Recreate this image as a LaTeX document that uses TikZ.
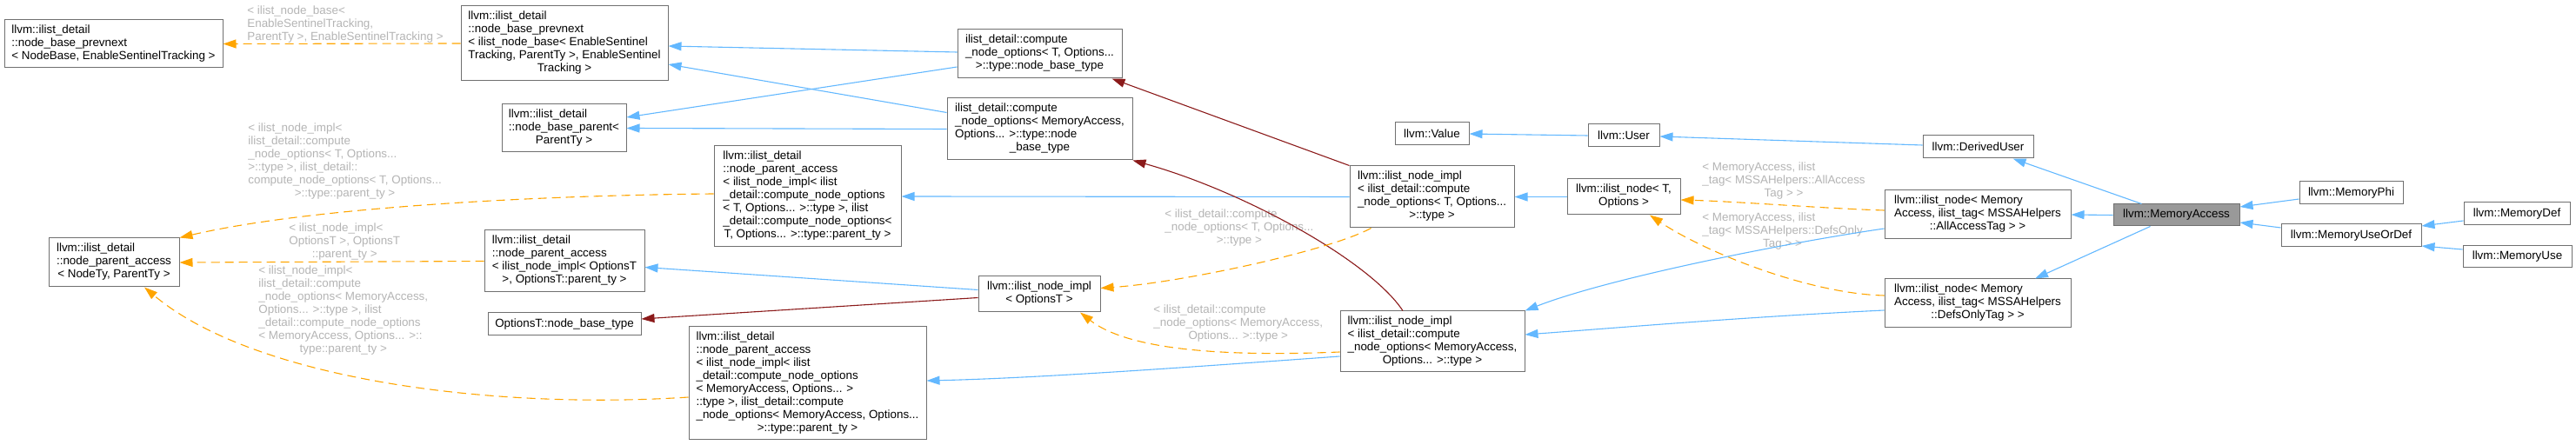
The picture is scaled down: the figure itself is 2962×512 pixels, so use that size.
\documentclass[tikz,border=0pt]{standalone}
\usepackage{fontspec}
\setmainfont{Liberation Sans}
\usetikzlibrary{arrows.meta,calc}
\definecolor{boxborder}{HTML}{707070}
\definecolor{inhblue}{HTML}{63B8FF}
\definecolor{tmplorange}{HTML}{FFA500}
\definecolor{usered}{HTML}{8B1A1A}
\definecolor{lblgray}{HTML}{B4B4B4}
\definecolor{mafill}{HTML}{999999}
\newcommand{\mlines}[2]{\begin{tabular}{@{}l@{}}#1\\\multicolumn{1}{@{}c@{}}{#2}\end{tabular}}
\newcommand{\bx}[7][]{\node[box,#1,minimum width={(#5-#3)*0.5pt},minimum height={(#6-#4)*0.5pt}] (#2) at ({(#3+#5)/2},{(#4+#6)/2}) {#7};}
\tikzset{
  box/.style={draw=boxborder, line width=0.5pt, fill=white, inner sep=0pt, font=\fontsize{6.7pt}{7.5pt}\selectfont},
  lbl/.style={text=lblgray, inner sep=0pt, font=\fontsize{6.7pt}{7.5pt}\selectfont},
  tip/.style={-{Triangle[length=7.5pt,width=5pt]}},
  inh/.style={draw=inhblue, line width=0.55pt, tip},
  tmpl/.style={draw=tmplorange, line width=0.55pt, dash pattern=on 5pt off 3pt, tip},
  usee/.style={draw=usered, line width=0.55pt, tip}
}
\begin{document}
\begin{tikzpicture}[x=0.5pt,y=-0.5pt]
\useasboundingbox (0,0) rectangle (2962,512);
% nodes
\bx{NBP}{5}{23}{256}{78}{\mlines{llvm::ilist\_detail\\::node\_base\_prevnext}{< NodeBase, EnableSentinelTracking >}}
\bx{NBPtwo}{530}{7}{768}{93}{\mlines{llvm::ilist\_detail\\::node\_base\_prevnext\\< ilist\_node\_base< EnableSentinel\\Tracking, ParentTy >, EnableSentinel}{Tracking >}}
\bx{NBPar}{577}{120}{720}{175}{\mlines{llvm::ilist\_detail\\::node\_base\_parent<}{ParentTy >}}
\bx{NPAT}{821}{168}{1036}{284}{\mlines{llvm::ilist\_detail\\::node\_parent\_access\\< ilist\_node\_impl< ilist\\\_detail::compute\_node\_options\\< T, Options... >::type >, ilist\\\_detail::compute\_node\_options<}{T, Options... >::type::parent\_ty >}}
\bx{NPA}{56}{274}{206}{330}{\mlines{llvm::ilist\_detail\\::node\_parent\_access}{< NodeTy, ParentTy >}}
\bx{NPAO}{557}{265}{741}{336}{\mlines{llvm::ilist\_detail\\::node\_parent\_access\\< ilist\_node\_impl< OptionsT}{>, OptionsT::parent\_ty >}}
\bx{OBT}{561}{360}{737}{386}{OptionsT::node\_base\_type}
\bx{NPAM}{792}{376}{1065}{506}{\mlines{llvm::ilist\_detail\\::node\_parent\_access\\< ilist\_node\_impl< ilist\\\_detail::compute\_node\_options\\< MemoryAccess, Options... >\\::type >, ilist\_detail::compute\\\_node\_options< MemoryAccess, Options...}{>::type::parent\_ty >}}
\bx{CNOT}{1101}{34}{1290}{90}{\mlines{ilist\_detail::compute\\\_node\_options< T, Options...}{>::type::node\_base\_type}}
\bx{CNOM}{1089}{113}{1302}{184}{\mlines{ilist\_detail::compute\\\_node\_options< MemoryAccess,\\Options... >::type::node}{\_base\_type}}
\bx{INIO}{1125}{318}{1265}{359}{\mlines{llvm::ilist\_node\_impl}{< OptionsT >}}
\bx{INIT}{1552}{191}{1741}{262}{\mlines{llvm::ilist\_node\_impl\\< ilist\_detail::compute\\\_node\_options< T, Options...}{>::type >}}
\bx{INIM}{1541}{358}{1753}{428}{\mlines{llvm::ilist\_node\_impl\\< ilist\_detail::compute\\\_node\_options< MemoryAccess,}{Options... >::type >}}
\bx{Val}{1604}{141}{1689}{167}{llvm::Value}
\bx{Usr}{1826}{143}{1908}{169}{llvm::User}
\bx{INT}{1802}{206}{1932}{247}{\mlines{llvm::ilist\_node< T,}{Options >}}
\bx{DU}{2211}{156}{2338}{182}{llvm::DerivedUser}
\bx{INA}{2167}{219}{2381}{275}{\mlines{llvm::ilist\_node< Memory\\Access, ilist\_tag< MSSAHelpers}{::AllAccessTag > >}}
\bx{IND}{2167}{321}{2381}{377}{\mlines{llvm::ilist\_node< Memory\\Access, ilist\_tag< MSSAHelpers}{::DefsOnlyTag > >}}
\bx[fill=mafill]{MA}{2430}{235}{2575}{260}{llvm::MemoryAccess}
\bx{MPhi}{2644}{209}{2763}{235}{llvm::MemoryPhi}
\bx{MUoD}{2623}{258}{2784}{284}{llvm::MemoryUseOrDef}
\bx{MDef}{2833}{233}{2955}{259}{llvm::MemoryDef}
\bx{MUse}{2832}{283}{2957}{308}{llvm::MemoryUse}
% edge labels
\node[lbl,anchor=west] (l1) at (284,29) {\mlines{< ilist\_node\_base<\\EnableSentinelTracking,}{ParentTy >, EnableSentinelTracking >}};
\node[lbl,anchor=west] (l2) at (285,186) {\mlines{< ilist\_node\_impl<\\ilist\_detail::compute\\\_node\_options< T, Options...\\>::type >, ilist\_detail::\\compute\_node\_options< T, Options...}{>::type::parent\_ty >}};
\node[lbl,anchor=west] (l3) at (332,279) {\mlines{< ilist\_node\_impl<\\OptionsT >, OptionsT}{::parent\_ty >}};
\node[lbl,anchor=west] (l4) at (297,358) {\mlines{< ilist\_node\_impl<\\ilist\_detail::compute\\\_node\_options< MemoryAccess,\\Options... >::type >, ilist\\\_detail::compute\_node\_options\\< MemoryAccess, Options... >::}{type::parent\_ty >}};
\node[lbl,anchor=west] (l5) at (1339,263) {\mlines{< ilist\_detail::compute\\\_node\_options< T, Options...}{>::type >}};
\node[lbl,anchor=west] (l6) at (1326,373) {\mlines{< ilist\_detail::compute\\\_node\_options< MemoryAccess,}{Options... >::type >}};
\node[lbl,anchor=west] (l7) at (1957,209) {\mlines{< MemoryAccess, ilist\\\_tag< MSSAHelpers::AllAccess}{Tag > >}};
\node[lbl,anchor=west] (l8) at (1957,267) {\mlines{< MemoryAccess, ilist\\\_tag< MSSAHelpers::DefsOnly}{Tag > >}};
% edges
\draw[inh] ($(MPhi.west)+(0,7)$) -- ($(MA.east)+(0,-9.5)$);
\draw[inh] ($(MUoD.west)+(0,-9)$) -- ($(MA.east)+(0,8.5)$);
\draw[inh] ($(MDef.west)+(0,8)$) -- ($(MUoD.east)+(0,-11)$);
\draw[inh] ($(MUse.west)+(0,-8.5)$) -- ($(MUoD.east)+(0,12)$);
\draw[inh] ($(MA.north)+(-40,0)$) -- ($(DU.south)+(40,0)$);
\draw[inh] (MA.west) -- (INA.east);
\draw[inh] ($(MA.south)+(-30,0)$) -- ($(IND.north)+(66,0)$);
\draw[inh] ($(DU.west)+(0,-2)$) -- ($(Usr.east)+(0,1)$);
\draw[inh] (Usr.west) -- (Val.east);
\draw[tmpl] ($(INA.west)+(0,-5)$) .. controls (2100,240) and (2000,232) .. ($(INT.east)+(0,3.5)$);
\draw[tmpl] ($(IND.west)+(0,-9)$) .. controls (2080,338) and (1960,290) .. ($(INT.south)+(30,0)$);
\draw[inh] ($(INA.west)+(0,16)$) .. controls (2050,280) and (1850,320) .. (INIM.north east);
\draw[inh] ($(IND.west)+(0,8)$) .. controls (2000,365) and (1850,378) .. ($(INIM.east)+(0,-8)$);
\draw[inh] (INT.west) -- (INIT.east);
\draw[inh] (INIT.west) -- (NPAT.east);
\draw[inh] ($(CNOT.west)+(0,-2)$) -- ($(NBPtwo.east)+(0,3)$);
\draw[inh] ($(CNOT.west)+(0,15)$) -- ($(NBPar.east)+(0,-12.5)$);
\draw[inh] ($(CNOM.west)+(0,-19)$) -- ($(NBPtwo.east)+(0,24)$);
\draw[inh] (CNOM.west) -- (NBPar.east);
\draw[tmpl] (NBPtwo.west) -- (NBP.east);
\draw[tmpl] ($(NPAT.west)+(0,-3)$) .. controls (600,225) and (350,240) .. (NPA.north east);
\draw[tmpl] (NPAO.west) -- (NPA.east);
\draw[tmpl] ($(NPAM.west)+(0,16)$) .. controls (560,472) and (290,435) .. ($(NPA.south)+(35,0)$);
\draw[usee] ($(INIO.west)+(0,4)$) -- ($(OBT.east)+(0,-6)$);
\draw[inh] ($(INIO.west)+(0,-5)$) -- ($(NPAO.east)+(0,7)$);
\draw[usee] (INIT.north west) -- ($(CNOT.south east)+(-12,0)$);
\draw[usee] ($(INIM.north)+(-34,0)$) .. controls (1575,300) and (1430,220) .. (CNOM.south east);
\draw[tmpl] ($(INIT.south)+(-70,0)$) .. controls (1530,288) and (1360,325) .. ($(INIO.east)+(0,-7)$);
\draw[tmpl] ($(INIM.west)+(0,12)$) .. controls (1420,410) and (1300,405) .. ($(INIO.south)+(47,0)$);
\draw[inh] ($(INIM.west)+(0,17)$) .. controls (1400,420) and (1200,435) .. ($(NPAM.east)+(0,-3)$);
\end{tikzpicture}
\end{document}
